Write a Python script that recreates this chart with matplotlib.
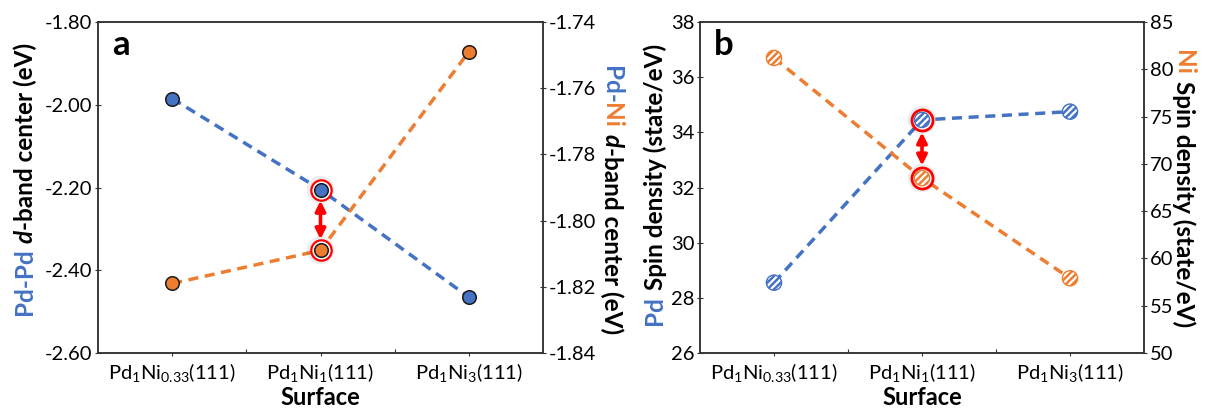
import matplotlib
matplotlib.use("Agg")
import matplotlib.pyplot as plt
from matplotlib.ticker import FormatStrFormatter, MultipleLocator, FixedLocator

# ---------------- data ----------------
categories = [r'Pd$_{1}$Ni$_{0.33}$(111)', r'Pd$_{1}$Ni$_{1}$(111)', r'Pd$_{1}$Ni$_{3}$(111)']
a_pdpd_dband = [-1.985, -2.205, -2.465]      # left axis (eV)
a_pdni_dband = [-1.819, -1.809, -1.749]      # right axis (eV)
b_pd_spin = [28.55, 34.45, 34.75]            # left axis (state/eV)
b_ni_spin = [81.2, 68.5, 57.9]               # right axis (state/eV)
highlight_idx = 1

BLUE = '#4472C4'
ORANGE = '#ED7D31'
FONT = 'Lato'

plt.rcParams['font.family'] = [FONT, 'DejaVu Sans']
plt.rcParams['mathtext.fontset'] = 'custom'
plt.rcParams['mathtext.rm'] = FONT
plt.rcParams['mathtext.it'] = FONT + ':italic'
plt.rcParams['mathtext.bf'] = FONT + ':bold'
plt.rcParams['hatch.color'] = 'white'
plt.rcParams['hatch.linewidth'] = 1.6

fig = plt.figure(figsize=(12.06, 4.11), dpi=100)
W, H = 1206, 411

def axpos(l, r, t, b):
    return [l / W, (H - b) / H, (r - l) / W, (b - t) / H]

axA = fig.add_axes(axpos(98, 543, 22, 353))
axB = fig.add_axes(axpos(700, 1144, 22, 353))
axA2 = axA.twinx()
axB2 = axB.twinx()

x = list(range(len(categories)))
DASH = (0, (2.9, 1.9))
SPINE = '#333333'
TICK_SIZE = 14.5

def style(ax, ax2):
    for a in (ax, ax2):
        for s in a.spines.values():
            s.set_color(SPINE)
            s.set_linewidth(1.1)
        a.tick_params(axis='y', which='major', direction='inout', length=4, width=0.8,
                      color=SPINE, labelsize=TICK_SIZE, pad=2)
    ax.set_xlim(-0.5, 2.5)
    ax.set_xticks(x)
    ax.set_xticklabels(categories, fontsize=TICK_SIZE)
    ax.xaxis.set_minor_locator(FixedLocator([0.5, 1.5]))
    ax.tick_params(axis='x', which='major', direction='out', length=2, width=0.8,
                   color=SPINE, pad=4)
    ax.tick_params(axis='x', which='minor', direction='in', length=3, width=0.8, color=SPINE)
    ax.set_xlabel('Surface', fontsize=17, fontweight='bold', labelpad=1)

# ---------------- panel a ----------------
style(axA, axA2)
axA.set_ylim(-2.6, -1.8)
axA.yaxis.set_major_locator(MultipleLocator(0.2))
axA.yaxis.set_major_formatter(FormatStrFormatter('%.2f'))
axA2.set_ylim(-1.84, -1.74)
axA2.yaxis.set_major_locator(MultipleLocator(0.02))
axA2.yaxis.set_major_formatter(FormatStrFormatter('%.2f'))

axA.plot(x, a_pdpd_dband, color=BLUE, lw=2.5, ls=DASH, zorder=2)
axA2.plot(x, a_pdni_dband, color=ORANGE, lw=2.5, ls=DASH, zorder=2)
for a, vals in ((axA, a_pdpd_dband), (axA2, a_pdni_dband)):
    a.scatter([x[highlight_idx]], [vals[highlight_idx]], s=290, facecolor='none',
              edgecolor='#000000', alpha=0.07, lw=3, zorder=3)
    a.scatter([x[highlight_idx]], [vals[highlight_idx]], s=215, facecolor='white',
              edgecolor='red', lw=1.6, zorder=3)
axA.scatter(x, a_pdpd_dband, s=95, facecolor=BLUE, edgecolor='#1a1a1a', lw=1.1, zorder=4)
axA2.scatter(x, a_pdni_dband, s=95, facecolor=ORANGE, edgecolor='#1a1a1a', lw=1.1, zorder=4)

axA2.annotate('', xy=(x[highlight_idx], a_pdpd_dband[highlight_idx]), xycoords=axA.transData,
              xytext=(x[highlight_idx], a_pdni_dband[highlight_idx]), textcoords=axA2.transData,
              arrowprops=dict(arrowstyle='<|-|>', color='red', lw=2.6, shrinkA=8, shrinkB=8,
                              mutation_scale=15), zorder=5)
axA.text(0.032, 0.93, 'a', transform=axA.transAxes, fontsize=25, fontweight='bold',
         va='center', ha='left')

# ---------------- panel b ----------------
style(axB, axB2)
axB.set_ylim(26, 38)
axB.yaxis.set_major_locator(MultipleLocator(2))
axB2.set_ylim(50, 85)
axB2.yaxis.set_major_locator(MultipleLocator(5))

axB.plot(x, b_pd_spin, color=BLUE, lw=2.5, ls=DASH, zorder=2)
axB2.plot(x, b_ni_spin, color=ORANGE, lw=2.5, ls=DASH, zorder=2)
for a, vals in ((axB, b_pd_spin), (axB2, b_ni_spin)):
    a.scatter([x[highlight_idx]], [vals[highlight_idx]], s=300, facecolor='none',
              edgecolor='#000000', alpha=0.07, lw=3, zorder=3)
    a.scatter([x[highlight_idx]], [vals[highlight_idx]], s=230, facecolor='white',
              edgecolor='red', lw=2.0, zorder=3)
for a, vals, c in ((axB, b_pd_spin, BLUE), (axB2, b_ni_spin, ORANGE)):
    a.scatter(x, vals, s=120, facecolor=c, edgecolor='white', hatch='/////', lw=0, zorder=4)
    a.scatter(x, vals, s=120, facecolor='none', edgecolor=c, lw=1.0, zorder=4)

axB2.annotate('', xy=(x[highlight_idx], b_pd_spin[highlight_idx]), xycoords=axB.transData,
              xytext=(x[highlight_idx], b_ni_spin[highlight_idx]), textcoords=axB2.transData,
              arrowprops=dict(arrowstyle='<|-|>', color='red', lw=2.6, shrinkA=9, shrinkB=9,
                              mutation_scale=15), zorder=5)
axB.text(0.032, 0.93, 'b', transform=axB.transAxes, fontsize=25, fontweight='bold',
         va='center', ha='left')

# ---------------- multi-coloured axis labels ----------------
fig.canvas.draw()
renderer = fig.canvas.get_renderer()
LABEL_SIZE = 17.5

def text_width(s, **kw):
    t = fig.text(0, 0, s, fontsize=LABEL_SIZE, fontweight='bold', **kw)
    w = t.get_window_extent(renderer).width
    t.remove()
    return w

def label(xc, y_top, y_bottom, pieces, rotation):
    yc = (y_top + y_bottom) / 2
    sp = text_width('a a') - text_width('aa')
    widths = [sp if p is None else text_width(p[0], fontstyle=p[2]) for p in pieces]
    total = sum(widths)
    if rotation == 90:
        pos = (H - yc) - total / 2      # start at bottom, go up
        step = 1
    else:
        pos = (H - yc) + total / 2      # start at top, go down
        step = -1
    for p, w in zip(pieces, widths):
        if p is not None:
            fig.text(xc / W, pos / H, p[0], fontsize=LABEL_SIZE, fontweight='bold',
                     fontstyle=p[2], color=p[1], rotation=rotation,
                     rotation_mode='anchor', ha='left', va='center')
        pos += step * w

K = 'black'
label(25, 38, 320, [('Pd-Pd', BLUE, 'normal'), None, ('d', K, 'italic'),
                    ('-band center (eV)', K, 'normal')], 90)
label(612, 52, 348, [('Pd-', BLUE, 'normal'), ('Ni', ORANGE, 'normal'), None,
                     ('d', K, 'italic'), ('-band center (eV)', K, 'normal')], 270)
label(655, 33, 336, [('Pd', BLUE, 'normal'), None, ('Spin density (state/eV)', K, 'normal')], 90)
label(1184, 45, 332, [('Ni', ORANGE, 'normal'), None, ('Spin density (state/eV)', K, 'normal')], 270)

fig.savefig('out.png', dpi=100)
